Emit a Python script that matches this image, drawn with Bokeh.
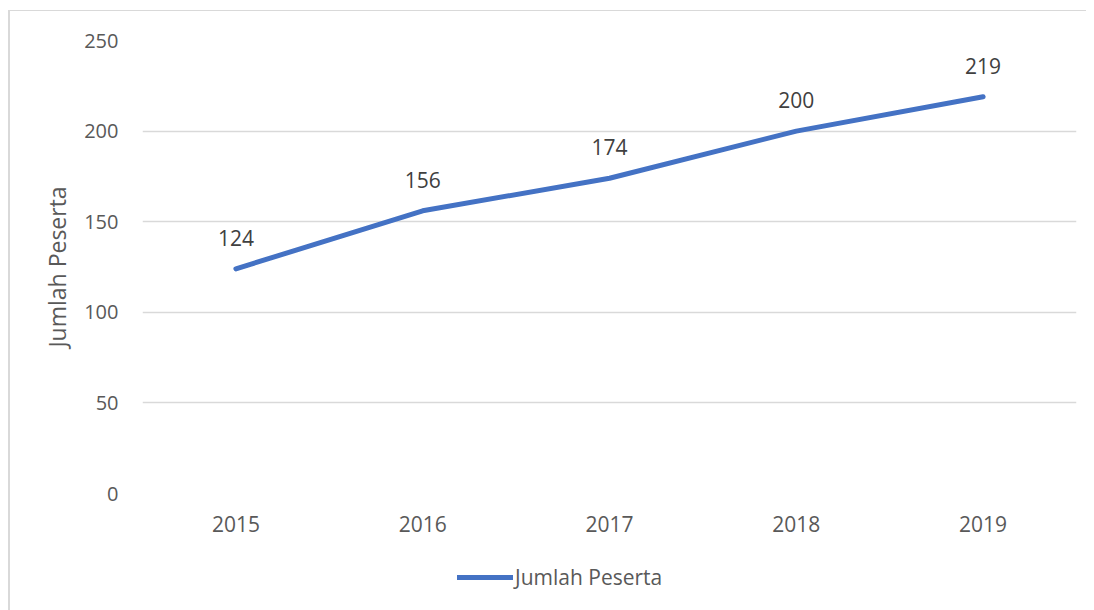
from bokeh.plotting import figure
from bokeh.models import ColumnDataSource, LabelSet, Legend, LegendItem, FactorRange, Range1d
from bokeh.layouts import column
from bokeh.core.properties import value
from bokeh.embed import file_html
from bokeh.resources import INLINE

years = ["2015", "2016", "2017", "2018", "2019"]
peserta = [124, 156, 174, 200, 219]
labels = [str(v) for v in peserta]
y_ticks = [0, 50, 100, 150, 200, 250]
series_name = "Jumlah Peserta"
axis_title = "Jumlah Peserta"

FONT = "Open Sans"
TXT = "#595959"
GRID = "#d9d9d9"
LINE = "#4472C4"

src = ColumnDataSource(dict(x=years, y=peserta, t=labels))

p = figure(x_range=FactorRange(*years, range_padding=0), y_range=Range1d(0, 250),
           frame_width=934, frame_height=453, output_backend="svg", toolbar_location=None,
           min_border_left=132, min_border_right=10, min_border_top=29, min_border_bottom=50)
p.outline_line_color = None
p.background_fill_color = "white"

r = p.line("x", "y", source=src, line_color=LINE, line_width=5, line_cap="round", line_join="round")

p.add_layout(LabelSet(x="x", y="y", text="t", source=src, y_offset=31, text_align="center",
                      text_baseline="middle", text_font=value(FONT), text_font_size="21px",
                      text_color="#404040"))

p.yaxis.ticker = y_ticks
p.yaxis.axis_line_color = None
p.yaxis.major_tick_line_color = None
p.yaxis.minor_tick_line_color = None
p.yaxis.major_label_standoff = 18
p.yaxis.major_label_text_font = FONT
p.yaxis.major_label_text_font_size = "20px"
p.yaxis.major_label_text_color = TXT
p.yaxis.axis_label = axis_title
p.yaxis.axis_label_text_font = FONT
p.yaxis.axis_label_text_font_size = "23px"
p.yaxis.axis_label_text_font_style = "normal"
p.yaxis.axis_label_text_color = TXT
p.yaxis.axis_label_standoff = 8

p.xaxis.axis_line_color = None
p.xaxis.major_tick_line_color = None
p.xaxis.minor_tick_line_color = None
p.xaxis.major_label_standoff = 16
p.xaxis.major_label_text_font = FONT
p.xaxis.major_label_text_font_size = "21px"
p.xaxis.major_label_text_color = TXT

p.xgrid.grid_line_color = None
p.ygrid.grid_line_color = GRID
p.ygrid.grid_line_width = 1.5

# legend strip below the chart (series copy lies outside this strip's visible range)
lf = figure(width=1076, height=67, x_range=Range1d(0, 1), y_range=Range1d(0, 1),
            output_backend="svg", toolbar_location=None, x_axis_location=None, y_axis_location=None,
            min_border=0)
lf.outline_line_color = None
lf.xgrid.grid_line_color = None
lf.ygrid.grid_line_color = None
lr = lf.line(x=list(range(len(peserta))), y=peserta, line_color=LINE, line_width=5, line_cap="round")
legend = Legend(items=[LegendItem(label=series_name, renderers=[lr])], location=(315, 19),
                orientation="horizontal", border_line_color=None, background_fill_alpha=0,
                label_text_font=FONT, label_text_font_size="21px", label_text_color=TXT,
                glyph_width=56, label_standoff=2, margin=0, padding=0)
lf.add_layout(legend)

layout = column(p, lf, spacing=0)
layout.styles = {"margin-left": "8px", "margin-top": "10px",
                 "border-left": "2px solid #d9d9d9", "border-top": "1px solid #d9d9d9"}

open("out.html", "w").write(file_html(layout, INLINE))
